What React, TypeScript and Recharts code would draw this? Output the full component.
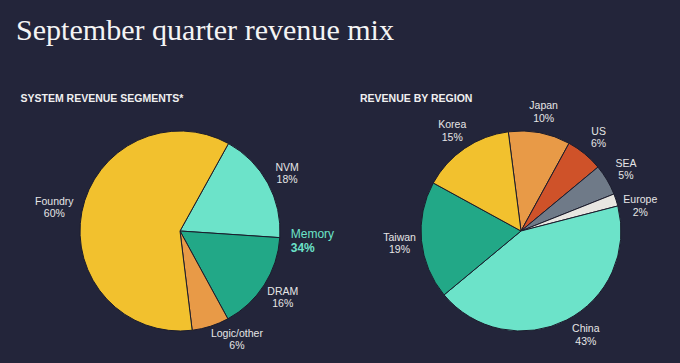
import React from 'react';
import { PieChart, Pie, Cell } from 'recharts';

// ---------- data ----------
const segmentNames = ['NVM', 'DRAM', 'Logic/other', 'Foundry'];
const segmentValues = [18, 16, 6, 60];
const memoryName = 'Memory';
const memoryParts = ['NVM', 'DRAM'];

const regionNames = ['Japan', 'US', 'SEA', 'Europe', 'China', 'Taiwan', 'Korea'];
const regionValues = [10, 6, 5, 2, 43, 19, 15];

const titleText = 'September quarter revenue mix';
const leftTitle = 'SYSTEM REVENUE SEGMENTS*';
const rightTitle = 'REVENUE BY REGION';

// ---------- styles ----------
const BG = '#23253a';
const LINE = '#1b1c2c';
const LABEL = '#e6e6e6';
const segmentColors: Record<string, string> = {
  NVM: '#6ce3c9',
  DRAM: '#22a887',
  'Logic/other': '#e89a47',
  Foundry: '#f2c12e',
};
const regionColors: Record<string, string> = {
  Japan: '#e89a47',
  US: '#cf5229',
  SEA: '#6f7a88',
  Europe: '#e8e6e1',
  China: '#6ce3c9',
  Taiwan: '#22a887',
  Korea: '#f2c12e',
};
// small angular nudges of label positions (degrees, counter-clockwise)
const labelNudge: Record<string, number> = { 'Logic/other': 10, Europe: -6, China: 5 };
const labelExtra: Record<string, number> = { Foundry: 6 };

const segmentData = segmentNames.map((name, i) => ({ name, value: segmentValues[i] }));
const regionData = regionNames.map((name, i) => ({ name, value: regionValues[i] }));

const LEFT_START = 61;
const RIGHT_START = 97.3;
const RAD = Math.PI / 180;
const FONT = "'Liberation Sans', Arial, sans-serif";

const segTotal = segmentValues.reduce((a, b) => a + b, 0);
const memoryValue = segmentData
  .filter((d) => memoryParts.includes(d.name))
  .reduce((a, d) => a + d.value, 0);
const nvmValue = segmentData[0].value;

const renderLabel = (props: any) => {
  const { cx, cy, midAngle, outerRadius, name, value } = props;
  const a = midAngle + (labelNudge[name] || 0);
  const r = outerRadius + 22 + (labelExtra[name] || 0);
  const x = cx + r * Math.cos(-a * RAD);
  const y = cy + r * Math.sin(-a * RAD);
  const main = (
    <text x={x} y={y} textAnchor="middle" fill={LABEL} fontSize={10.5} fontFamily={FONT}>
      <tspan x={x} dy={-2}>{name}</tspan>
      <tspan x={x} dy={12.5}>{value}%</tspan>
    </text>
  );
  if (name !== 'DRAM') return main;
  // Memory annotation at NVM/DRAM boundary
  const b = LEFT_START - (360 * nvmValue) / segTotal;
  const mr = outerRadius + 11;
  const mx = cx + mr * Math.cos(-b * RAD);
  const my = cy + mr * Math.sin(-b * RAD);
  return (
    <g>
      {main}
      <text x={mx} y={my} textAnchor="start" fill="#6ce3c9" fontSize={12} fontFamily={FONT}>
        <tspan x={mx} dy={0}>{memoryName}</tspan>
        <tspan x={mx} dy={13.5} fontWeight="bold">{memoryValue}%</tspan>
      </text>
    </g>
  );
};

export default function App() {
  return (
    <div style={{ position: 'relative', width: 680, height: 363, background: BG, overflow: 'hidden' }}>
      <style>{`body{margin:0;background:${BG};}`}</style>
      <svg width={680} height={363} style={{ position: 'absolute', left: 0, top: 0 }}>
        <text
          x={16}
          y={39.5}
          fill="#f4f4f4"
          fontSize={28.5}
          fontFamily="'Liberation Serif', 'Times New Roman', serif"
          textLength={378}
          lengthAdjust="spacingAndGlyphs"
        >
          {titleText}
        </text>
        <text x={20.5} y={101.7} fill="#f0f0f0" fontSize={10.5} fontWeight="bold" fontFamily={FONT}>
          {leftTitle}
        </text>
        <text x={360} y={101.7} fill="#f0f0f0" fontSize={10.5} fontWeight="bold" fontFamily={FONT}>
          {rightTitle}
        </text>
      </svg>
      <div style={{ position: 'absolute', left: 0, top: 0 }}>
        <PieChart width={680} height={363} margin={{ top: 0, right: 0, bottom: 0, left: 0 }}>
          <Pie
            data={segmentData}
            dataKey="value"
            nameKey="name"
            cx={180}
            cy={231}
            outerRadius={100}
            startAngle={LEFT_START}
            endAngle={LEFT_START - 360}
            stroke={LINE}
            strokeWidth={1}
            labelLine={false}
            label={renderLabel}
            isAnimationActive={false}
          >
            {segmentData.map((d) => (
              <Cell key={d.name} fill={segmentColors[d.name]} />
            ))}
          </Pie>
          <Pie
            data={regionData}
            dataKey="value"
            nameKey="name"
            cx={521}
            cy={231}
            outerRadius={100}
            startAngle={RIGHT_START}
            endAngle={RIGHT_START - 360}
            stroke={LINE}
            strokeWidth={1}
            labelLine={false}
            label={renderLabel}
            isAnimationActive={false}
          >
            {regionData.map((d) => (
              <Cell key={d.name} fill={regionColors[d.name]} />
            ))}
          </Pie>
        </PieChart>
      </div>
    </div>
  );
}
